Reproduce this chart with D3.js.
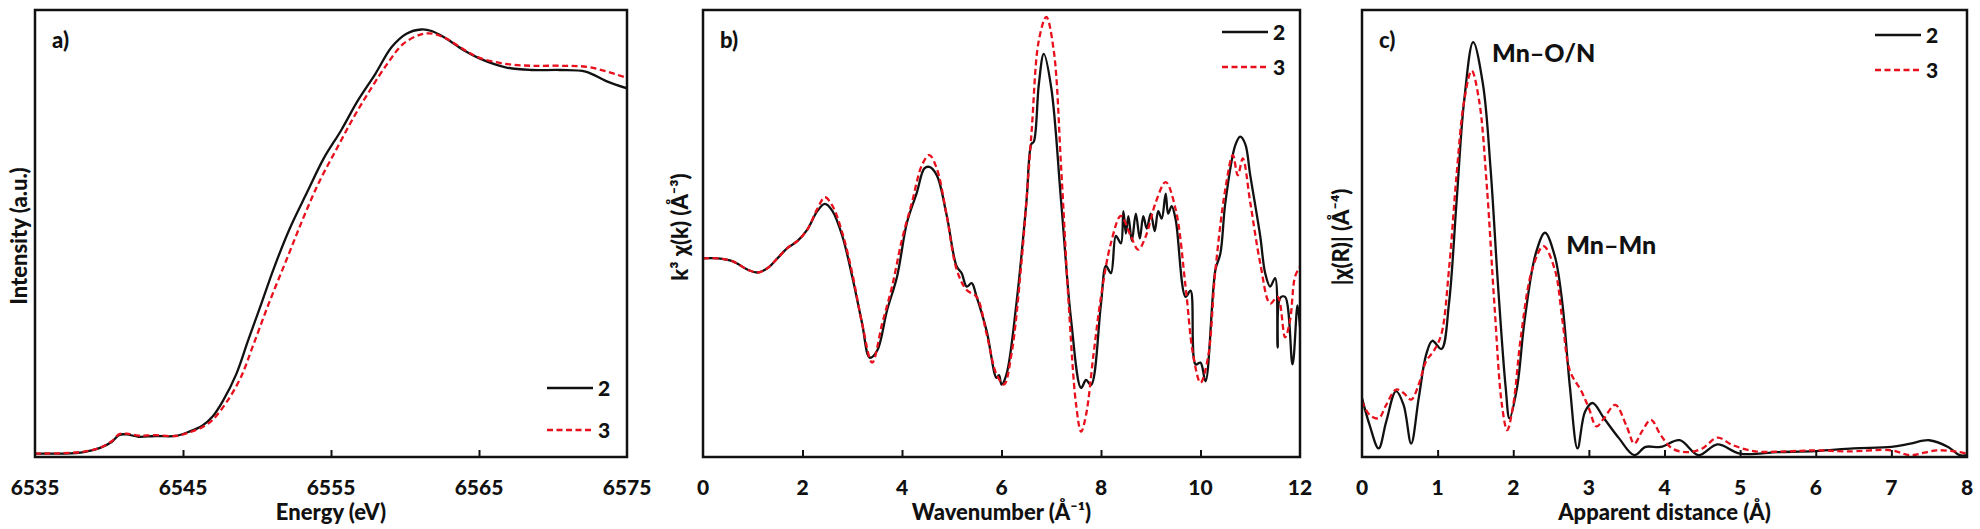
<!DOCTYPE html>
<html>
<head>
<meta charset="utf-8">
<script src="https://cdn.jsdelivr.net/npm/d3@7"></script>
<style>
  body { margin: 0; background: #fff; }
  svg { display: block; font-family: Lato, "Open Sans", sans-serif; font-weight: 900; }
  .tick-label { font-size: 21px; fill: #111; }
  .axis-label { font-size: 22px; fill: #111; }
  .panel-tag { font-size: 22px; fill: #111; }
  .legend-text { font-size: 21px; fill: #111; }
  .note { font-size: 25px; fill: #111; }
</style>
</head>
<body>
<div id="viz"></div>
<script>
// a) XANES, normalised intensity
const xanes2 = [[6535,0.009],[6536.9,0.009],[6538.3,0.013],[6539.4,0.024],[6540.2,0.040],[6540.7,0.058],[6541.2,0.059],
  [6542.0,0.053],[6543.1,0.055],[6544.5,0.055],[6545.4,0.066],[6546.3,0.082],[6547.0,0.106],[6547.7,0.147],[6548.6,0.217],
  [6549.4,0.305],[6550.3,0.402],[6551.1,0.490],[6552.2,0.597],[6553.4,0.694],[6554.5,0.781],[6555.7,0.856],[6556.8,0.932],
  [6558.0,1.003],[6559.1,1.073],[6560.1,1.108],[6561.1,1.119],[6561.8,1.115],[6562.8,1.095],[6564.0,1.064],[6565.1,1.042],
  [6566.8,1.020],[6568.5,1.013],[6570.5,1.013],[6572.2,1.009],[6573.6,0.984],[6575,0.965]];
const xanes3 = [[6535,0.009],[6536.9,0.010],[6538.3,0.014],[6539.4,0.024],[6540.2,0.042],[6540.7,0.060],[6541.2,0.061],
  [6542.0,0.056],[6543.1,0.057],[6544.5,0.055],[6545.4,0.064],[6546.3,0.078],[6547.0,0.097],[6548.0,0.147],[6548.9,0.208],
  [6549.7,0.288],[6550.8,0.402],[6552.0,0.517],[6553.1,0.623],[6554.2,0.720],[6555.4,0.808],[6556.5,0.887],[6557.6,0.958],
  [6558.8,1.029],[6559.9,1.082],[6561.1,1.106],[6561.9,1.108],[6562.8,1.095],[6564.0,1.066],[6565.1,1.044],[6566.8,1.029],
  [6568.5,1.024],[6570.5,1.024],[6572.5,1.020],[6575,0.992]];

// b) k3-weighted EXAFS
const exafs2 = [[0,0],[0.3,0],[0.6,-0.12],[0.9,-0.46],[1.1,-0.57],[1.3,-0.39],[1.5,0.01],[1.7,0.42],[1.9,0.70],[2.1,1.17],
  [2.3,1.91],[2.45,2.19],[2.6,1.91],[2.8,0.90],[3.0,-0.74],[3.2,-2.64],[3.35,-4.00],[3.5,-3.72],[3.7,-2.09],[3.9,-0.74],
  [4.1,1.44],[4.3,2.66],[4.45,3.62],[4.55,3.68],[4.7,3.34],[4.9,1.71],[5.1,-0.33],[5.2,-0.6],[5.3,-1.14],[5.4,-1.0],[5.5,-1.55],
  [5.7,-2.91],[5.9,-4.81],[5.95,-4.7],[6.0,-5.08],[6.1,-4.67],[6.3,-1.82],[6.5,2.25],[6.6,4.6],[6.65,4.7],[6.75,7.0],[6.85,8.23],
  [7.0,6.87],[7.2,2.25],[7.4,-2.50],[7.6,-5.22],[7.7,-4.9],[7.8,-5.1],[8.0,-1.82],[8.1,-0.3],[8.2,-0.6],[8.3,0.9],[8.4,0.6],
  [8.45,1.9],[8.5,1.0],[8.55,1.7],[8.62,0.7],[8.7,1.8],[8.78,0.8],[8.85,1.7],[8.92,1.2],[9.0,1.8],[9.08,1.1],[9.15,1.9],
  [9.22,1.6],[9.3,2.6],[9.35,1.8],[9.42,2.1],[9.5,1.57],[9.7,-1.55],[9.8,-1.3],[9.9,-4.27],[10.0,-4.2],[10.1,-4.95],
  [10.3,-0.46],[10.4,0.2],[10.5,2.25],[10.7,4.56],[10.8,4.9],[10.9,4.6],[11.0,3.34],[11.2,0.90],[11.3,-0.6],[11.4,-1.14],
  [11.5,-0.8],[11.55,-3.59],[11.6,-1.6],[11.7,-1.55],[11.85,-4.27],[11.95,-1.9],[12.0,-2.77]];
const exafs3 = [[0,0],[0.3,0],[0.6,-0.12],[0.9,-0.46],[1.1,-0.57],[1.3,-0.39],[1.5,0.01],[1.7,0.42],[1.9,0.70],[2.1,1.17],
  [2.3,2.0],[2.45,2.46],[2.6,2.12],[2.8,1.03],[3.0,-0.60],[3.2,-2.64],[3.4,-4.20],[3.6,-2.64],[3.8,-1.14],[4.0,0.76],
  [4.2,2.25],[4.4,3.75],[4.55,4.16],[4.7,3.61],[4.9,1.71],[5.1,-0.46],[5.3,-1.28],[5.5,-1.55],[5.7,-3.04],[5.9,-4.67],
  [6.05,-5.08],[6.2,-3.86],[6.4,-0.19],[6.6,4.97],[6.75,8.77],[6.9,9.72],[7.05,8.37],[7.2,3.61],[7.35,-1.82],[7.5,-5.90],
  [7.6,-6.98],[7.7,-6.30],[7.85,-3.86],[8.0,-1.55],[8.2,0.62],[8.4,1.71],[8.6,0.89],[8.75,0.35],[8.9,0.89],[9.1,2.25],
  [9.3,3.07],[9.5,1.98],[9.7,-1.14],[9.85,-3.86],[10.0,-5.01],[10.15,-4.00],[10.3,-0.46],[10.5,2.80],[10.65,4.16],
  [10.75,3.34],[10.85,4.02],[11.0,2.25],[11.2,-0.19],[11.4,-1.82],[11.55,-1.55],[11.7,-3.18],[11.8,-2.50],[11.9,-0.74],[12.0,-0.33]];

// c) Fourier transform magnitude
const ft2 = [[0,1.58],[0.1,0.86],[0.22,0.23],[0.32,0.95],[0.45,1.77],[0.55,1.40],[0.65,0.36],[0.75,1.58],[0.85,2.76],
  [0.93,3.12],[1.05,2.90],[1.15,4.12],[1.25,6.84],[1.35,9.55],[1.47,11.14],[1.6,10.0],[1.7,7.74],[1.8,4.57],[1.9,1.86],
  [1.95,1.04],[2.05,1.86],[2.15,3.67],[2.3,5.48],[2.42,6.02],[2.55,5.39],[2.65,4.12],[2.75,1.86],[2.85,0.23],[2.95,1.22],
  [3.05,1.45],[3.2,1.04],[3.4,0.50],[3.6,0.05],[3.75,0.27],[3.95,0.27],[4.2,0.45],[4.45,0.05],[4.7,0.34],[5.0,0.09],
  [5.5,0.13],[6.0,0.16],[6.5,0.23],[7.0,0.27],[7.25,0.36],[7.5,0.45],[7.75,0.27],[7.9,0.05],[8.0,0.05]];
const ft3 = [[0,1.50],[0.1,1.13],[0.22,1.04],[0.32,1.40],[0.45,1.81],[0.55,1.72],[0.65,1.54],[0.75,1.95],[0.85,2.58],
  [0.95,2.85],[1.05,3.30],[1.15,5.03],[1.25,7.56],[1.35,9.55],[1.45,10.37],[1.55,9.55],[1.65,7.29],[1.75,4.12],[1.85,1.40],
  [1.92,0.72],[2.0,1.40],[2.1,3.21],[2.25,5.03],[2.4,5.66],[2.55,5.03],[2.65,3.67],[2.75,2.31],[2.9,1.77],[3.0,1.31],
  [3.1,0.82],[3.2,1.04],[3.35,1.40],[3.5,0.82],[3.6,0.36],[3.7,0.68],[3.82,1.00],[3.95,0.59],[4.1,0.23],[4.3,0.13],
  [4.5,0.23],[4.7,0.52],[4.9,0.32],[5.2,0.15],[5.6,0.15],[6.0,0.18],[6.4,0.15],[7.0,0.18],[7.25,0.05],[7.6,0.18],[7.9,0.13],[8.0,0.09]];

const seriesNames = ['2', '3'];
const seriesColors = ['#111111', '#e8101c'];
const seriesDash = [null, '6,3.5'];

const panels = [
  { tag: 'a)', left: 35, right: 627, xDomain: [6535, 6575], xTicks: [6535, 6545, 6555, 6565, 6575],
    yDomain: [0, 1.17], data: [xanes2, xanes3], xLabel: 'Energy (eV)', yLabel: 'Intensity (a.u.)',
    yLabelPos: [27, 236], legend: { x: 547, y: 388, gap: 42 } },
  { tag: 'b)', left: 703, right: 1300, xDomain: [0, 12], xTicks: [0, 2, 4, 6, 8, 10, 12],
    yDomain: [-8, 10], data: [exafs2, exafs3], xLabel: 'Wavenumber (Å⁻¹)', yLabel: 'k³ χ(k) (Å⁻³)',
    yLabelPos: [688, 227], legend: { x: 1222, y: 32, gap: 35 } },
  { tag: 'c)', left: 1362, right: 1967, xDomain: [0, 8], xTicks: [0, 1, 2, 3, 4, 5, 6, 7, 8],
    yDomain: [0, 12], data: [ft2, ft3], xLabel: 'Apparent distance (Å)', yLabel: '|χ(R)|  (Å⁻⁴)',
    yLabelPos: [1349, 237], legend: { x: 1875, y: 35, gap: 35 },
    notes: [{ text: 'Mn–O/N', x: 1.72, y: 10.6 }, { text: 'Mn–Mn', x: 2.7, y: 5.45 }] }
];

const width = 1980, height = 529;
const plotTop = 10, plotBottom = 457;

const svg = d3.select('#viz').append('svg')
  .attr('width', width)
  .attr('height', height);

panels.forEach(p => {
  const xScale = d3.scaleLinear().domain(p.xDomain).range([p.left, p.right]);
  const yScale = d3.scaleLinear().domain(p.yDomain).range([plotBottom, plotTop]);
  const g = svg.append('g');
  const id = p.tag[0];

  // curves
  const line = d3.line()
    .x(d => xScale(d[0]))
    .y(d => yScale(d[1]))
    .curve(d3.curveCatmullRom.alpha(0.5));

  g.append('defs').append('clipPath').attr('id', 'clip-' + id)
    .append('rect')
    .attr('x', p.left).attr('y', plotTop)
    .attr('width', p.right - p.left).attr('height', plotBottom - plotTop);

  const curves = g.append('g').attr('clip-path', `url(#clip-${id})`);
  p.data.forEach((series, i) => {
    curves.append('path')
      .attr('fill', 'none')
      .attr('stroke', seriesColors[i])
      .attr('stroke-width', 2.3)
      .attr('stroke-dasharray', seriesDash[i])
      .attr('stroke-linejoin', 'round')
      .attr('d', line(series));
  });

  // x axis with inward ticks on the interior values
  const xAxis = d3.axisBottom(xScale)
    .tickValues(p.xTicks.slice(1, -1))
    .tickSize(-7)
    .tickFormat('');
  const xAxisG = g.append('g').attr('transform', `translate(0,${plotBottom})`).call(xAxis);
  xAxisG.select('.domain').remove();
  xAxisG.selectAll('line').attr('stroke', '#111').attr('stroke-width', 2);

  g.selectAll('.tick-label-' + id)
    .data(p.xTicks)
    .enter().append('text')
    .attr('class', 'tick-label')
    .attr('x', d => xScale(d))
    .attr('y', 495)
    .attr('text-anchor', 'middle')
    .text(d => d);

  // frame
  g.append('rect')
    .attr('x', p.left).attr('y', plotTop)
    .attr('width', p.right - p.left).attr('height', plotBottom - plotTop)
    .attr('fill', 'none')
    .attr('stroke', '#111')
    .attr('stroke-width', 2.5);

  // axis titles
  g.append('text')
    .attr('class', 'axis-label')
    .attr('x', (p.left + p.right) / 2)
    .attr('y', 520)
    .attr('text-anchor', 'middle')
    .text(p.xLabel);

  g.append('text')
    .attr('class', 'axis-label')
    .attr('transform', `translate(${p.yLabelPos[0]},${p.yLabelPos[1]}) rotate(-90)`)
    .attr('text-anchor', 'middle')
    .text(p.yLabel);

  // panel tag
  g.append('text')
    .attr('class', 'panel-tag')
    .attr('x', p.left + 17)
    .attr('y', 48)
    .text(p.tag);

  // legend
  seriesNames.forEach((name, i) => {
    const ly = p.legend.y + i * p.legend.gap;
    g.append('line')
      .attr('x1', p.legend.x).attr('x2', p.legend.x + 46)
      .attr('y1', ly).attr('y2', ly)
      .attr('stroke', seriesColors[i])
      .attr('stroke-width', 2.3)
      .attr('stroke-dasharray', seriesDash[i]);
    g.append('text')
      .attr('class', 'legend-text')
      .attr('x', p.legend.x + 51)
      .attr('y', ly + 7.5)
      .text(name);
  });

  // peak notes
  (p.notes || []).forEach(n => {
    g.append('text')
      .attr('class', 'note')
      .attr('x', xScale(n.x))
      .attr('y', yScale(n.y))
      .text(n.text);
  });
});
</script>
</body>
</html>
